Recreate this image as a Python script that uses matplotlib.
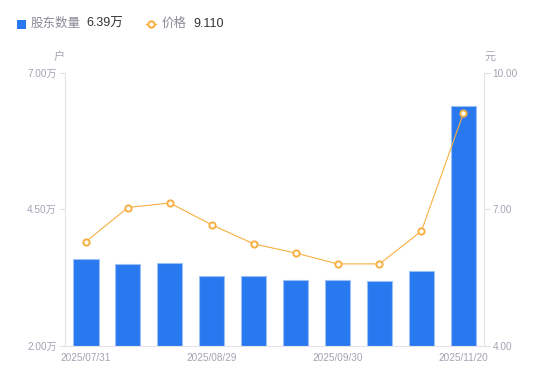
import matplotlib
matplotlib.use("Agg")
import matplotlib.pyplot as plt
from matplotlib.lines import Line2D
from matplotlib.patches import Rectangle

plt.rcParams['font.family'] = ['Liberation Sans', 'Noto Sans CJK SC']

dates = ["2025/07/31", "", "", "2025/08/29", "", "", "2025/09/30", "", "", "2025/11/20"]
holders = [3.59, 3.49, 3.51, 3.28, 3.27, 3.20, 3.20, 3.18, 3.37, 6.39]  # 万户
price = [6.29, 7.04, 7.14, 6.66, 6.24, 6.04, 5.80, 5.80, 6.52, 9.11]
left_ticks = [2.0, 4.5, 7.0]
right_ticks = [4.0, 7.0, 10.0]

blue = '#2878f0'
orange = '#f7b042'
gray = '#a3a3b3'
axis_col = '#e3e3e8'

fig = plt.figure(figsize=(5.5, 3.81), dpi=100)
ax = fig.add_axes([65 / 550, 1 - 345.7 / 381, (484.3 - 65) / 550, (345.7 - 73) / 381])
x = list(range(len(holders)))
ax.bar(x, [h - 2.0 for h in holders], bottom=2.0, width=0.6, color=blue,
       edgecolor='#9cc0f8', linewidth=0.8)
ax.set_xlim(-0.5, len(holders) - 0.5)
ax.set_ylim(2.0, 7.0)
ax.set_yticks(left_ticks)
ax.set_yticklabels([f"{v:.2f}万" for v in left_ticks])
ax.set_xticks(x)
ax.set_xticklabels(dates)
ax.tick_params(axis='x', length=0, pad=5, labelsize=7.2, colors=gray)
ax.tick_params(axis='y', length=4, width=0.8, color=axis_col, pad=2, labelsize=7.2, colors=gray)
for s in ['top', 'right']:
    ax.spines[s].set_visible(False)
for s in ['left', 'bottom']:
    ax.spines[s].set_color(axis_col)
    ax.spines[s].set_linewidth(0.8)

ax2 = ax.twinx()
ax2.plot(x, price, color=orange, linewidth=0.8, marker='o', markersize=4.5,
         markerfacecolor='white', markeredgecolor=orange, markeredgewidth=1.4)
ax2.set_ylim(4.0, 10.0)
ax2.set_yticks(right_ticks)
ax2.set_yticklabels([f"{v:.2f}" for v in right_ticks])
ax2.tick_params(axis='y', length=4, width=0.8, color=axis_col, pad=2, labelsize=7.2, colors=gray)
for s in ['top', 'left', 'bottom']:
    ax2.spines[s].set_visible(False)
ax2.spines['right'].set_color(axis_col)
ax2.spines['right'].set_linewidth(0.8)

# unit labels
fig.text(59 / 550, 1 - 57 / 381, "户", color=gray, fontsize=8, ha='center', va='center')
fig.text(490 / 550, 1 - 57 / 381, "元", color=gray, fontsize=8, ha='center', va='center')

# legend
ly = 1 - 24 / 381
fig.add_artist(Rectangle((17 / 550, 1 - 29 / 381), 9 / 550, 9 / 381, transform=fig.transFigure,
                         color=blue, linewidth=0))
fig.text(31 / 550, ly, "股东数量", color='#8a8a99', fontsize=9, va='center')
fig.text(86 / 550, ly, f"{holders[-1]:.2f}万", color='#333333', fontsize=9, va='center')
fig.add_artist(Line2D([146 / 550, 156 / 550], [ly, ly], transform=fig.transFigure, color=orange,
                      linewidth=1))
fig.add_artist(Line2D([151 / 550], [ly], transform=fig.transFigure, color=orange, marker='o',
                      markersize=4.5, markerfacecolor='white', markeredgewidth=1.5))
fig.text(162 / 550, ly, "价格", color='#8a8a99', fontsize=9, va='center')
fig.text(193 / 550, ly, f"{price[-1]:.3f}", color='#333333', fontsize=9, va='center')

fig.savefig("out.png", dpi=100)
